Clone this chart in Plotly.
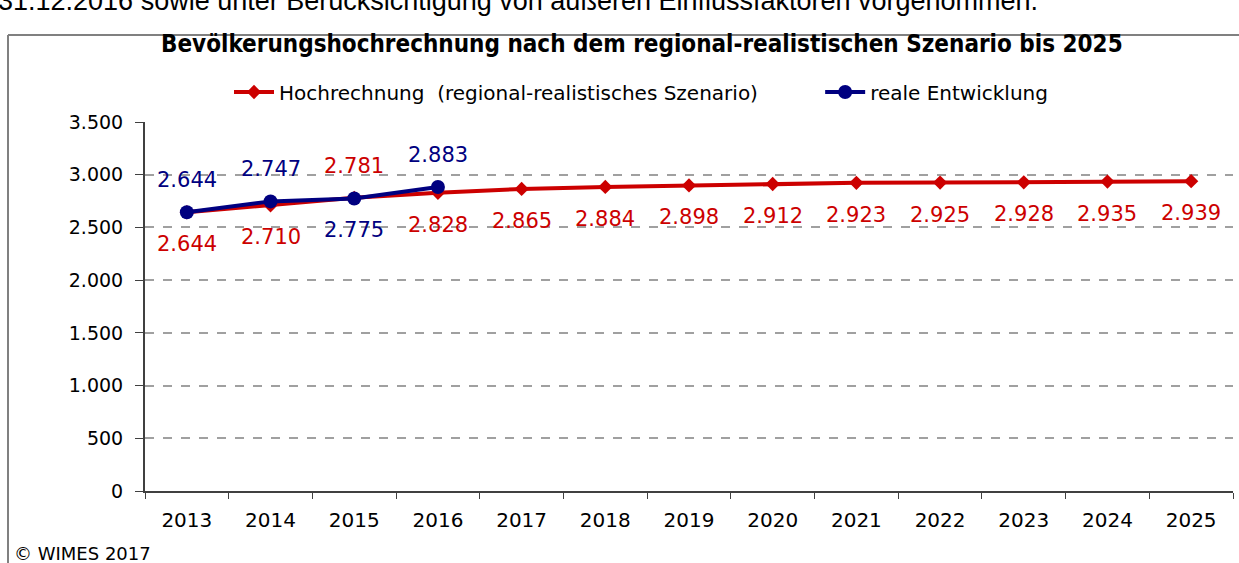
import plotly.graph_objects as go

years = ["2013", "2014", "2015", "2016", "2017", "2018", "2019", "2020",
         "2021", "2022", "2023", "2024", "2025"]
hochrechnung = [2644, 2710, 2781, 2828, 2865, 2884, 2898, 2912, 2923, 2925, 2928, 2935, 2939]
real_years = ["2013", "2014", "2015", "2016"]
real = [2644, 2747, 2775, 2883]
# label placement: +1 above, -1 below
hoch_label_side = [-1, -1, 1, -1, -1, -1, -1, -1, -1, -1, -1, -1, -1]
real_label_side = [1, 1, -1, 1]

RED = "#CC0000"
BLUE = "#000080"

W, H = 1239, 563
L, R, T, B = 145, 6, 122, 72
pw, ph = W - L - R, H - T - B


def px_x(x):
    return (x - L) / pw


def px_y(y):
    return (H - B - y) / ph


def fmt(v):
    return f"{v:,}".replace(",", ".")


NB = "\u00a0"
fig = go.Figure()
fig.add_trace(go.Scatter(
    x=years, y=hochrechnung, mode="lines+markers",
    name="Hochrechnung" + NB + " (regional-realistisches Szenario)" + NB * 9,
    line=dict(color=RED, width=4),
    marker=dict(symbol="diamond", size=11, color=RED),
))
fig.add_trace(go.Scatter(
    x=real_years, y=real, mode="lines+markers",
    name="reale Entwicklung",
    line=dict(color=BLUE, width=4),
    marker=dict(symbol="circle", size=14, color=BLUE),
))

annotations = []
for xs, ys, sides, col in [(years, hochrechnung, hoch_label_side, RED),
                           (real_years, real, real_label_side, BLUE)]:
    for xv, yv, s in zip(xs, ys, sides):
        annotations.append(dict(
            x=years.index(xv), y=yv, xref="x", yref="y", text=fmt(yv), showarrow=False,
            yshift=32 * s, font=dict(family="DejaVu Sans", size=21, color=col),
        ))

annotations.append(dict(
    x=px_x(642), y=px_y(44), xref="paper", yref="paper",
    text="<b>Bevölkerungshochrechnung nach dem regional-realistischen Szenario bis 2025</b>",
    showarrow=False, xanchor="center", yanchor="middle",
    font=dict(family="DejaVu Sans Condensed, DejaVu Sans", size=24, color="#000000"),
))
annotations.append(dict(
    x=px_x(12), y=px_y(553), xref="paper", yref="paper",
    text="© WIMES 2017", showarrow=False, xanchor="left", yanchor="middle",
    font=dict(family="DejaVu Sans", size=18, color="#000000"),
))
annotations.append(dict(
    x=px_x(-4), y=px_y(1), xref="paper", yref="paper",
    text="31.12.2016 sowie unter Berücksichtigung von äußeren Einflussfaktoren vorgenommen.",
    showarrow=False, xanchor="left", yanchor="middle",
    font=dict(family="Liberation Sans", size=27, color="#000000"),
))

shapes = [
    dict(type="line", xref="paper", yref="paper", x0=px_x(8), x1=px_x(1245),
         y0=px_y(35), y1=px_y(35), line=dict(color="#808080", width=2)),
    dict(type="line", xref="paper", yref="paper", x0=px_x(8), x1=px_x(8),
         y0=px_y(35), y1=px_y(570), line=dict(color="#808080", width=2)),
]

fig.update_layout(
    width=W, height=H,
    margin=dict(l=L, r=R, t=T, b=B),
    paper_bgcolor="white", plot_bgcolor="white",
    separators=",.",
    showlegend=True,
    legend=dict(orientation="h", x=px_x(641), xanchor="center", y=px_y(92),
                yanchor="middle", font=dict(family="DejaVu Sans", size=20, color="#000000"),
                itemwidth=40, bgcolor="rgba(0,0,0,0)"),
    annotations=annotations,
    shapes=shapes,
    xaxis=dict(type="category", categoryorder="array", categoryarray=years,
               tickson="boundaries", ticks="outside", ticklen=6, tickcolor="#404040",
               showline=True, linecolor="#404040", linewidth=2, showgrid=False,
               ticklabelstandoff=10,
               tickfont=dict(family="DejaVu Sans", size=20, color="#000000"),
               range=[-0.5, 12.5]),
    yaxis=dict(range=[0, 3500], dtick=500, tickformat=",d", ticks="outside",
               ticklen=8, tickcolor="#404040", showline=True, linecolor="#404040",
               linewidth=2, showgrid=True, gridcolor="#A0A0A0", griddash="dash",
               gridwidth=1.5, zeroline=False, ticklabelstandoff=8,
               tickfont=dict(family="DejaVu Sans", size=19, color="#000000")),
)

fig.write_html("out.html", config={"displayModeBar": False},
               post_script="document.body.style.margin='0';")
